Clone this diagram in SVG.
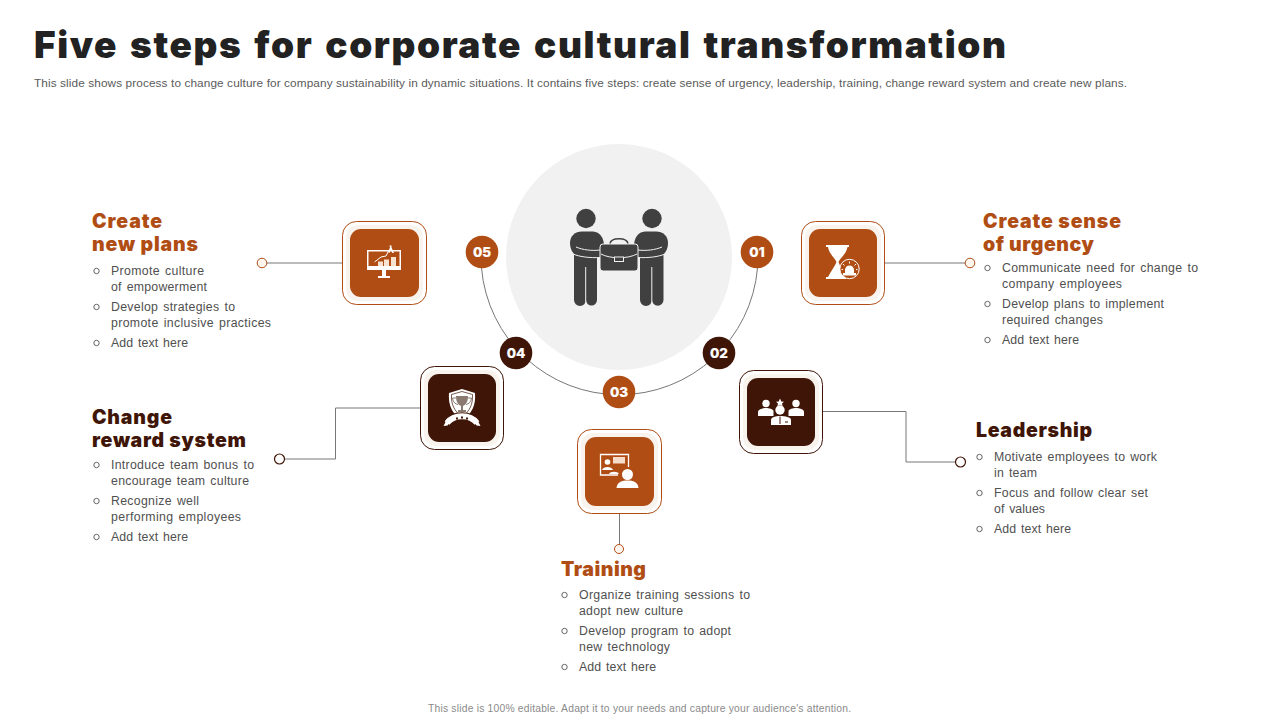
<svg xmlns="http://www.w3.org/2000/svg" width="1280" height="720" viewBox="0 0 1280 720">
<style>
text{font-family:"Liberation Sans",Arial,sans-serif}
.title{font-family:Inter,"Liberation Sans",sans-serif;font-weight:900;font-size:37px;fill:#222;word-spacing:3px}
.sub{font-size:11.800px;fill:#5a5a5a}
.foot{font-size:10.300px;fill:#8a8a8a}
.h{font-family:Inter,"Liberation Sans",sans-serif;font-weight:900;font-size:19.500px}
.o{fill:#b04d14}.d{fill:#3f1507}
.b{font-size:12.300px;fill:#505050;word-spacing:1.300px}
.bul{fill:none;stroke:#555;stroke-width:.9}
.num{font-family:Inter,"Liberation Sans",sans-serif;font-weight:800;font-size:13.500px;fill:#fff;text-anchor:middle;stroke:#fff;stroke-width:.2}
.ln{fill:none;stroke:#777;stroke-width:1}
.co{fill:#fff6f0;stroke:#b04d14;stroke-width:1}
.cd{fill:#fff;stroke:#3f1507;stroke-width:1.200}
.card{fill:#fff;stroke-width:1}
.pad{fill:#f9f3ee}
.w{fill:#fff}
.gy{fill:#404040}
.hl{fill:none;stroke:#f1f1f1;stroke-width:1}
</style>

<text class="title" x="34" y="58" textLength="972" lengthAdjust="spacing">Five steps for corporate cultural transformation</text>
<text class="sub" x="34" y="87" textLength="1093" lengthAdjust="spacing">This slide shows process to change culture for company sustainability in dynamic situations. It contains five steps: create sense of urgency, leadership, training, change reward system and create new plans.</text>

<g id="connectors">
<path class="ln" d="M757.500 268A138.500 138.500 0 0 1 481.500 268"/>
<path class="ln" d="M885 263H965"/>
<path class="ln" d="M823 411.500H906V462H955"/>
<path class="ln" d="M619.500 514V544"/>
<path class="ln" d="M420 408H335.500V459H285"/>
<path class="ln" d="M342 263H267"/>
<circle class="co" cx="970" cy="263" r="4.800"/>
<circle class="cd" cx="960.500" cy="462" r="5"/>
<circle class="co" cx="619" cy="549" r="4.500"/>
<circle class="cd" cx="279.500" cy="459" r="5"/>
<circle class="co" cx="262" cy="263" r="4.800"/>
</g>

<g id="hub">
<circle cx="619" cy="257" r="113" fill="#f1f1f1"/>
<g class="gy">
<circle cx="586" cy="218.500" r="9.700"/>
<circle cx="652" cy="218.500" r="9.700"/>
<path d="M574 255H597V300a5.500 5.500 0 0 1-11 0a6 6 0 0 1-12 0Z"/>
<path d="M640 255H663.500V300a5.500 5.500 0 0 1-11.500 0a6 6 0 0 1-12 0Z"/>
<path d="M582 231.500H593C600 232 604 238 604 246V258H580C574 256 570 250 570 243C570 236 575 231.500 582 231.500Z"/>
<path d="M656 231.500H645C638 232 634 238 634 246V258H658C664 256 668 250 668 243C668 236 663 231.500 656 231.500Z"/>
</g>
<path class="hl" d="M585.700 267V305M651.800 267V305M576 247C583 250 592 251 600 250M662 247C655 250 646 251 638 250M573 254C580 257 590 258 600 257.500M665 254C658 257 648 258 638 257.500"/>
<path d="M603 244H635a3 3 0 0 1 3 3V268a3 3 0 0 1-3 3H603a3 3 0 0 1-3-3V247a3 3 0 0 1 3-3Z" fill="#404040" stroke="#f1f1f1" stroke-width="1"/>
<path d="M610 243.500C611 237 627 237 628 243.500" fill="none" stroke="#404040" stroke-width="1.500"/>
<path class="hl" d="M601 254C610 259 628 259 637 254"/>
<rect x="614.500" y="257" width="9" height="4.500" fill="#404040" stroke="#f1f1f1"/>
</g>

<g id="badge-01"><circle class="o" cx="757" cy="252" r="16.300"/><text class="num" x="757" y="256.500">01</text></g>
<g id="badge-02"><circle class="d" cx="719" cy="353" r="16.300"/><text class="num" x="719" y="357.500">02</text></g>
<g id="badge-03"><circle class="o" cx="619" cy="392" r="16.300"/><text class="num" x="619" y="396.500">03</text></g>
<g id="badge-04"><circle class="d" cx="516" cy="353" r="16.300"/><text class="num" x="516" y="357.500">04</text></g>
<g id="badge-05"><circle class="o" cx="482" cy="252" r="16.300"/><text class="num" x="482" y="256.500">05</text></g>

<g id="step-01">
<rect class="card" x="801.500" y="221.500" width="83" height="83" rx="14" stroke="#b04d14"/>
<rect class="pad" x="805" y="225" width="76" height="76" rx="12"/>
<rect class="o" x="809" y="229" width="68" height="68" rx="11"/>
<path class="w" d="M826 245H849V247H847.500C846.500 254 840 258 838.500 262C840 266 843 272 846 277V279H826V277H828C831 271 835 266 836.500 262C835 258 829 254 828 247H826Z"/>
<circle cx="849.500" cy="269" r="9.700" class="o" stroke="#fff" stroke-width="1"/>
<path class="w" d="M845 273V270a4.500 4.500 0 0 1 9 0V273H856V275.500H843V273Z"/>
<path d="M849.500 261.500V263.500M843 264L844.500 265.500M856 264L854.500 265.500M841.500 269.500H843M856 269.500H857.500" stroke="#fff" stroke-width="1"/>
<text class="h o" x="983" y="228" textLength="138">Create sense</text>
<text class="h o" x="983" y="251" textLength="111">of urgency</text>
<circle class="bul" cx="987.500" cy="268" r="2.700"/>
<text class="b" x="1002" y="272" textLength="196" lengthAdjust="spacing">Communicate need for change to</text>
<text class="b" x="1002" y="288" textLength="120" lengthAdjust="spacing">company employees</text>
<circle class="bul" cx="987.500" cy="304" r="2.700"/>
<text class="b" x="1002" y="308" textLength="162" lengthAdjust="spacing">Develop plans to implement</text>
<text class="b" x="1002" y="324" textLength="101" lengthAdjust="spacing">required changes</text>
<circle class="bul" cx="987.500" cy="340" r="2.700"/>
<text class="b" x="1002" y="344" textLength="77" lengthAdjust="spacing">Add text here</text>
</g>

<g id="step-02">
<rect class="card" x="739.500" y="370.500" width="83" height="83" rx="14" stroke="#3f1507"/>
<rect class="pad" x="743" y="374" width="76" height="76" rx="12"/>
<rect class="d" x="747" y="378" width="68" height="68" rx="11"/>
<g class="w">
<circle cx="766" cy="403.500" r="3.700"/><circle cx="796" cy="403.500" r="3.700"/><circle cx="780" cy="410" r="4.700"/>
<path d="M758 416V412C758 409 763 408 766 408C769 408 773 409 773.500 411V416Z"/>
<path d="M804 416V412C804 409 799 408 796 408C793 408 789 409 788.500 411V416Z"/>
<path d="M771 425V420C771 417 776 416 780 416C785 416 791 417 791 420V425Z"/>
<path d="M780 398.500L781.300 401.500 784 401.800 782 403.500 782.600 406 780 404.700 777.400 406 778 403.500 776 401.800 778.700 401.500Z"/>
</g>
<path d="M780 416.500V424M785 422H788" stroke="#3f1507" stroke-width="1" fill="none"/>
<text class="h d" x="976" y="437" textLength="116">Leadership</text>
<circle class="bul" cx="979.500" cy="457" r="2.700"/>
<text class="b" x="994" y="461" textLength="163" lengthAdjust="spacing">Motivate employees to work</text>
<text class="b" x="994" y="477" textLength="43" lengthAdjust="spacing">in team</text>
<circle class="bul" cx="979.500" cy="493" r="2.700"/>
<text class="b" x="994" y="497" textLength="154" lengthAdjust="spacing">Focus and follow clear set</text>
<text class="b" x="994" y="513" textLength="51" lengthAdjust="spacing">of values</text>
<circle class="bul" cx="979.500" cy="529" r="2.700"/>
<text class="b" x="994" y="533" textLength="77" lengthAdjust="spacing">Add text here</text>
</g>

<g id="step-03">
<rect class="card" x="577.500" y="429.500" width="84" height="84" rx="14" stroke="#b04d14"/>
<rect class="pad" x="581" y="433" width="77" height="77" rx="12"/>
<rect class="o" x="585" y="437" width="69" height="69" rx="11"/>
<path d="M618 475H600.500V454.500H628.500V467" fill="none" stroke="#fff" stroke-width="1.300"/>
<rect x="613" y="457" width="12" height="6.500" fill="#f5ddca"/>
<circle class="w" cx="607.500" cy="462" r="2.800"/>
<path class="w" d="M602 470C603 466 612 466 613 470ZM609 474C610 471 618 471 619 474Z"/>
<circle cx="627.500" cy="474.500" r="5.500" class="w"/>
<path class="w" d="M616.500 488C617 482 622 480.500 627.500 480.500C633 480.500 638 482 638.500 488Z"/>
<text class="h o" x="561" y="576" textLength="85">Training</text>
<circle class="bul" cx="564.500" cy="595" r="2.700"/>
<text class="b" x="579" y="599" textLength="171" lengthAdjust="spacing">Organize training sessions to</text>
<text class="b" x="579" y="615" textLength="104" lengthAdjust="spacing">adopt new culture</text>
<circle class="bul" cx="564.500" cy="631" r="2.700"/>
<text class="b" x="579" y="635" textLength="152" lengthAdjust="spacing">Develop program to adopt</text>
<text class="b" x="579" y="651" textLength="91" lengthAdjust="spacing">new technology</text>
<circle class="bul" cx="564.500" cy="667" r="2.700"/>
<text class="b" x="579" y="671" textLength="77" lengthAdjust="spacing">Add text here</text>
</g>

<g id="step-04">
<rect class="card" x="420.500" y="366.500" width="83" height="83" rx="14" stroke="#3f1507"/>
<rect class="pad" x="424" y="370" width="76" height="76" rx="12"/>
<rect class="d" x="428" y="374" width="68" height="68" rx="11"/>
<path class="w" d="M462 389L475 393C476 405 472 414 462 420C452 414 448 405 449 393Z"/>
<path d="M462 391.500L472.500 394.500C473 404 470 411 462 417C454 411 451 404 451.500 394.500Z" fill="none" stroke="#3f1507" stroke-width=".7"/>
<path d="M456 396H468C468 403 465 405 463 406V410H466V412H458V410H461V406C459 405 456 403 456 396Z" fill="#8a7a72"/>
<path d="M456 398H452.500C453 402 455 404 458 404.500M468 398H471.500C471 402 469 404 466 404.500" fill="none" stroke="#6b5b52" stroke-width=".8"/>
<path d="M447 423C454 414 470 414 477 423" fill="none" stroke="#3f1507" stroke-width="8"/>
<path d="M447 423C454 414 470 414 477 423" fill="none" stroke="#fff" stroke-width="6"/>
<path class="w" d="M443.500 426L447 419 450 422 447.500 425.500ZM480.500 426L477 419 474 422 476.500 425.500Z"/>
<path d="M456 418.500h2M461 417.500h2M466 418.500h2" stroke="#3f1507" stroke-width="2"/>
<text class="h d" x="92" y="424" textLength="80">Change</text>
<text class="h d" x="92" y="447" textLength="154">reward system</text>
<circle class="bul" cx="96.500" cy="465" r="2.700"/>
<text class="b" x="111" y="469" textLength="143" lengthAdjust="spacing">Introduce team bonus to</text>
<text class="b" x="111" y="485" textLength="138" lengthAdjust="spacing">encourage team culture</text>
<circle class="bul" cx="96.500" cy="501" r="2.700"/>
<text class="b" x="111" y="505" textLength="88" lengthAdjust="spacing">Recognize well</text>
<text class="b" x="111" y="521" textLength="130" lengthAdjust="spacing">performing employees</text>
<circle class="bul" cx="96.500" cy="537" r="2.700"/>
<text class="b" x="111" y="541" textLength="77" lengthAdjust="spacing">Add text here</text>
</g>

<g id="step-05">
<rect class="card" x="342.500" y="221.500" width="84" height="83" rx="14" stroke="#b04d14"/>
<rect class="pad" x="346" y="225" width="77" height="76" rx="12"/>
<rect class="o" x="350" y="229" width="69" height="68" rx="11"/>
<path class="w" d="M367 250H401V270H386V276H390V278H378V276H382V270H367ZM368.500 251.500V266H399.500V251.500Z"/>
<path d="M374.500 262L381 257 386 256 389 250" fill="none" stroke="#fff" stroke-width="1"/>
<path d="M378 261.500H383V266H378ZM384 259.500H389V266H384ZM391 257H396V266H391Z" fill="#f8e3d2"/>
<path class="w" d="M388 252L390 247.500 389.500 245.500 391.500 245.500 391.500 247.500 394 253 392.500 253 390.500 250 389.500 253Z"/>
<text class="h o" x="92" y="228" textLength="70">Create</text>
<text class="h o" x="92" y="251" textLength="106">new plans</text>
<circle class="bul" cx="96.500" cy="271" r="2.700"/>
<text class="b" x="111" y="275" textLength="93" lengthAdjust="spacing">Promote culture</text>
<text class="b" x="111" y="291" textLength="96" lengthAdjust="spacing">of empowerment</text>
<circle class="bul" cx="96.500" cy="307" r="2.700"/>
<text class="b" x="111" y="311" textLength="124" lengthAdjust="spacing">Develop strategies to</text>
<text class="b" x="111" y="327" textLength="160" lengthAdjust="spacing">promote inclusive practices</text>
<circle class="bul" cx="96.500" cy="343" r="2.700"/>
<text class="b" x="111" y="347" textLength="77" lengthAdjust="spacing">Add text here</text>
</g>

<text class="foot" x="428" y="712" textLength="423" lengthAdjust="spacing">This slide is 100% editable. Adapt it to your needs and capture your audience's attention.</text>
</svg>
